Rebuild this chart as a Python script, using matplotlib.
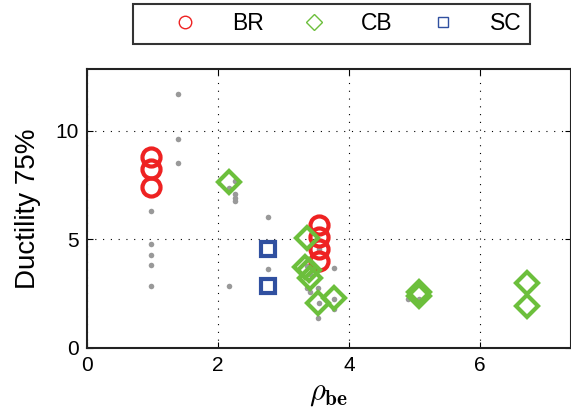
import numpy as np
import matplotlib
matplotlib.use('Agg')
import matplotlib.pyplot as plt
from matplotlib.lines import Line2D

plt.rcParams['font.family'] = ['Liberation Sans', 'DejaVu Sans']
plt.rcParams['mathtext.fontset'] = 'cm'

# gray background points (all specimens)
gray_x = [1.39, 1.39, 1.39, 0.98, 0.98, 0.98, 0.98, 0.98,
          2.26, 2.16, 2.26, 2.26, 2.26, 2.76, 2.76, 2.16,
          3.54, 3.77, 3.35, 3.40, 3.52, 3.54, 3.77, 3.77, 3.52,
          4.90, 5.07, 5.07, 3.35, 3.40]
gray_y = [11.68, 9.63, 8.53, 6.32, 4.80, 4.28, 3.82, 2.85,
          7.70, 7.35, 7.09, 6.92, 6.75, 6.03, 3.65, 2.85,
          4.56, 3.67, 2.75, 2.59, 2.75, 2.06, 2.24, 1.79, 1.39,
          2.24, 2.93, 2.24, 3.75, 3.40]

# BR - circles
br_x = [0.98, 0.98, 0.98, 3.54, 3.54, 3.54, 3.54]
br_y = [8.78, 8.22, 7.40, 5.66, 5.12, 4.56, 4.02]

# CB - diamonds
cb_x = [2.16, 3.35, 3.32, 3.38, 3.40, 3.52, 3.77, 5.07, 5.07, 6.71, 6.71]
cb_y = [7.64, 5.05, 3.71, 3.59, 3.21, 2.08, 2.31, 2.56, 2.38, 3.00, 1.95]

# SC - squares
sc_x = [2.76, 2.76]
sc_y = [4.56, 2.85]

fig = plt.figure(figsize=(5.71, 4.17), dpi=100)
ax = fig.add_axes([0.1524, 0.1655, 0.847, 0.6698])

ax.scatter(gray_x, gray_y, s=16, color='#999999', zorder=2, linewidths=0)
ax.plot(br_x, br_y, 'o', ms=13, mfc='none', mec='#ee2222', mew=3, zorder=3)
ax.plot(cb_x, cb_y, 'D', ms=11, mfc='none', mec='#6cbf3c', mew=3, zorder=3)
ax.plot(sc_x, sc_y, 's', ms=10, mfc='none', mec='#3050a0', mew=3, zorder=3)

ax.set_xlim(0, 7.38)
ax.set_ylim(0, 12.85)
ax.set_xticks([0, 2, 4, 6])
ax.set_yticks([0, 5, 10])
ax.grid(True, linestyle=(0, (1, 6)), color='black', linewidth=0.8)
ax.tick_params(direction='in', top=True, right=True, labelsize=15, length=4, pad=6)
for sp in ax.spines.values():
    sp.set_linewidth(1.5)
    sp.set_color('#222222')

ax.set_ylabel('Ductility 75%', fontsize=20, labelpad=10)
ax.set_xlabel(r'$\rho_{\mathbf{be}}$', fontsize=22, labelpad=2)

handles = [
    Line2D([], [], ls='none', marker='o', ms=9, mfc='none', mec='#ee2222', mew=1),
    Line2D([], [], ls='none', marker='D', ms=8, mfc='none', mec='#6cbf3c', mew=1),
    Line2D([], [], ls='none', marker='s', ms=7, mfc='none', mec='#3050a0', mew=1),
]
leg = fig.legend(handles, ['BR', 'CB', 'SC'], ncol=3, loc='center',
                 bbox_to_anchor=(331.5 / 571, 1 - 24 / 417), fontsize=16.5,
                 frameon=True, fancybox=False, edgecolor='black',
                 handlelength=3.8, handletextpad=0.15, columnspacing=0.3,
                 borderpad=0.35)
leg.get_frame().set_linewidth(1.5)

fig.savefig('out.png', dpi=100)
